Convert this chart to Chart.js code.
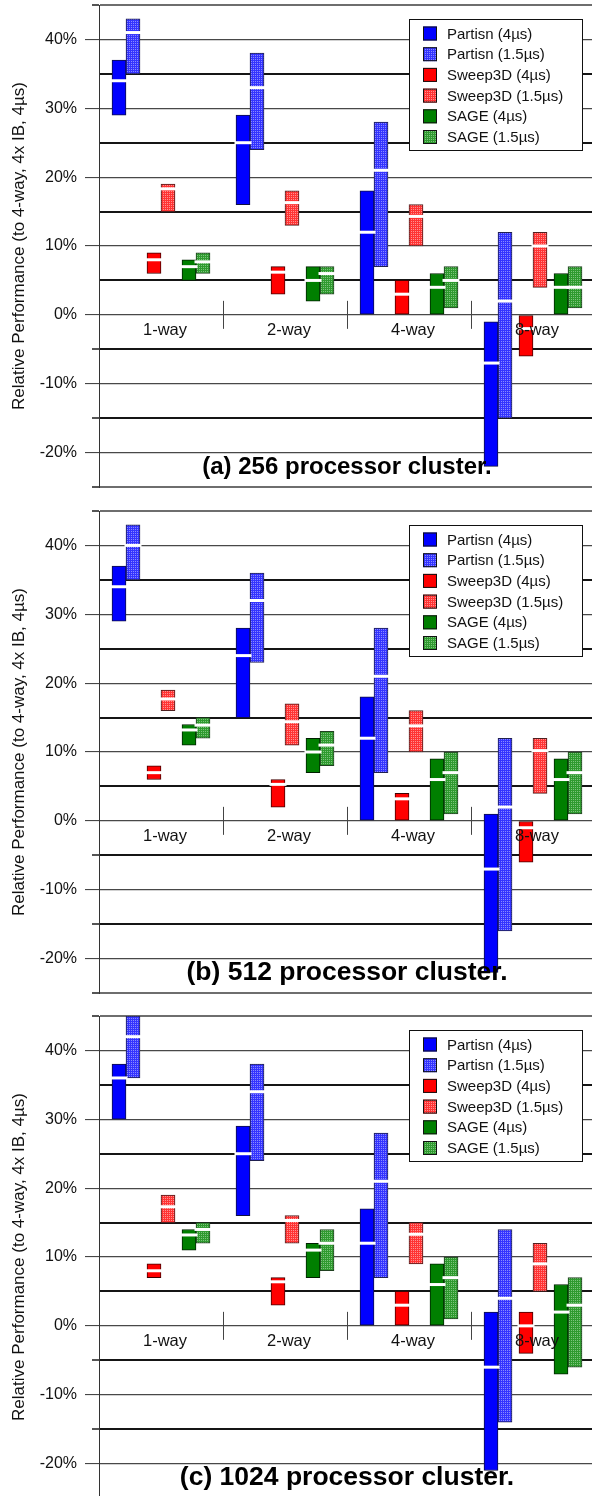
<!DOCTYPE html>
<html><head><meta charset="utf-8">
<script src="https://cdn.jsdelivr.net/npm/chart.js@4.4.0/dist/chart.umd.min.js"></script>
<style>
html,body{margin:0;padding:0;background:#fff;overflow:hidden;width:592px;height:1496px;}
#wrap{position:relative;width:592px;height:1496px;overflow:hidden;background:#fff;}
canvas{position:absolute;left:0;}
</style></head><body>
<div id="wrap">
<canvas id="ca" width="600" height="506" style="top:0px;width:600px;height:506px"></canvas>
<canvas id="cb" width="600" height="506" style="top:506px;width:600px;height:506px"></canvas>
<canvas id="cc" width="600" height="506" style="top:1011px;width:600px;height:506px"></canvas>
</div>
<script>
// ---------- data ----------
const categories = ['1-way', '2-way', '4-way', '8-way'];
const seriesNames = ['Partisn (4µs)', 'Partisn (1.5µs)', 'Sweep3D (4µs)', 'Sweep3D (1.5µs)', 'SAGE (4µs)', 'SAGE (1.5µs)'];
const yAxisTitle = 'Relative Performance (to 4-way, 4x IB, 4µs)';
const yMin = -25, yMax = 45, yStep = 5, yLabelEvery = 10;
const panelTitles = ['(a) 256 processor cluster.', '(b) 512 processor cluster.', '(c) 1024 processor cluster.'];

// panel (a) 256 processors: [low, high] ranges and mean per category
const a_partisn4 = [[29, 37], [16, 29], [0, 18], [-22, -1]];
const a_partisn4_mean = [34, 25, 12, -7];
const a_partisn15 = [[35, 43], [24, 38], [7, 28], [-15, 12]];
const a_partisn15_mean = [41, 33, 21, 2];
const a_sweep4 = [[6, 9], [3, 7], [0, 5], [-6, 0]];
const a_sweep4_mean = [8, 6.2, 3, -2];
const a_sweep15 = [[15, 19], [13, 18], [10, 16], [4, 12]];
const a_sweep15_mean = [18.3, 16.3, 14.3, 10];
const a_sage4 = [[5, 8], [2, 7], [0, 6], [0, 6]];
const a_sage4_mean = [7, 5, 4, 4];
const a_sage15 = [[6, 9], [3, 7], [1, 7], [1, 7]];
const a_sage15_mean = [7.7, 6, 5, 4];

// panel (b) 512 processors
const b_partisn4 = [[29, 37], [15, 28], [0, 18], [-22, 1]];
const b_partisn4_mean = [34, 24, 12, -7];
const b_partisn15 = [[35, 43], [23, 36], [7, 28], [-16, 12]];
const b_partisn15_mean = [40, 32, 21, 2];
const b_sweep4 = [[6, 8], [2, 6], [0, 4], [-6, 0]];
const b_sweep4_mean = [7, 5.3, 3.2, -1];
const b_sweep15 = [[16, 19], [11, 17], [10, 16], [4, 12]];
const b_sweep15_mean = [17.7, 14.4, 13.8, 10.2];
const b_sage4 = [[11, 14], [7, 12], [0, 9], [0, 9]];
const b_sage4_mean = [13.2, 10, 6, 6];
const b_sage15 = [[12, 15], [8, 13], [1, 10], [1, 10]];
const b_sage15_mean = [13.9, 11, 7, 7];

// panel (c) 1024 processors
const c_partisn4 = [[30, 38], [16, 29], [0, 17], [-21, 2]];
const c_partisn4_mean = [36, 25, 12, -6];
const c_partisn15 = [[36, 45], [24, 38], [7, 28], [-14, 14]];
const c_partisn15_mean = [42, 34, 21, 4];
const c_sweep4 = [[7, 9], [3, 7], [0, 5], [-4, 2]];
const c_sweep4_mean = [8, 6.4, 3, 0];
const c_sweep15 = [[15, 19], [12, 16], [9, 15], [5, 12]];
const c_sweep15_mean = [17.3, 15.3, 13.3, 9];
const c_sage4 = [[11, 14], [7, 12], [0, 9], [-7, 6]];
const c_sage4_mean = [13.2, 11, 6, 2];
const c_sage15 = [[12, 15], [8, 14], [1, 10], [-6, 7]];
const c_sage15_mean = [14, 12, 7, 3];

// ---------- styling ----------
Chart.defaults.font.family = "'Liberation Sans', Arial, sans-serif";
Chart.defaults.color = '#111';

function makePattern(base, dot) {
  const c = document.createElement('canvas');
  c.width = 2; c.height = 2;
  const g = c.getContext('2d');
  g.fillStyle = base; g.fillRect(0, 0, 2, 2);
  g.fillStyle = dot; g.fillRect(1, 1, 1, 1);
  return g.createPattern(c, 'repeat');
}
const fills = [
  '#0000ff', makePattern('#3434ff', '#8a8aff'),
  '#ff0000', makePattern('#ff3434', '#ff9090'),
  '#007f00', makePattern('#2f9a2f', '#7cc47c')
];
const borders = ['#101040', '#202050', '#400000', '#502020', '#002000', '#204020'];
// horizontal offset of each series inside its category (fraction of category width)
const seriesOffset = [-42, -28, -7, 7, 28, 42].map(p => p / 124);

function isMajor(v) { return v % yLabelEvery === 0; }
function isEdge(v) { return v === yMin || v === yMax; }

const panelPlugin = {
  id: 'panelDecor',
  beforeDatasetsDraw(chart) {
    const {ctx, chartArea: ca} = chart;
    const xs = chart.scales.x, ys = chart.scales.y;
    const y0 = ys.getPixelForValue(0);
    ctx.save();
    ctx.strokeStyle = '#444'; ctx.lineWidth = 1;
    // category separators on the zero line
    for (let i = 1; i < categories.length; i++) {
      const px = Math.round(xs.getPixelForValue(i)) + 0.5;
      ctx.beginPath(); ctx.moveTo(px, y0 - 14); ctx.lineTo(px, y0 + 14); ctx.stroke();
    }
    // short minor ticks
    ys.ticks.forEach(t => {
      if (!isMajor(t.value) && (t.value < 0 || t.value === yMax)) {
        const py = Math.round(ys.getPixelForValue(t.value));
        ctx.strokeStyle = '#555'; ctx.lineWidth = 2;
        ctx.beginPath(); ctx.moveTo(ca.left - 7, py); ctx.lineTo(ca.left, py); ctx.stroke();
      }
    });
    ctx.restore();
  },
  afterDraw(chart, args, opts) {
    const {ctx, chartArea: ca} = chart;
    ctx.save();
    // legend box
    const bx = ca.right - 186, by = ca.top + 14, bw = 173, bh = 131;
    ctx.fillStyle = '#fff'; ctx.fillRect(bx, by, bw, bh);
    ctx.strokeStyle = '#111'; ctx.lineWidth = 1;
    ctx.strokeRect(bx + 0.5, by + 0.5, bw, bh);
    ctx.font = "15px 'Liberation Sans', Arial, sans-serif";
    ctx.textBaseline = 'middle'; ctx.textAlign = 'left';
    const barSets = chart.data.datasets.filter(d => d.type === 'bar');
    barSets.forEach((d, i) => {
      const cy = by + 14.5 + i * 20.7;
      ctx.fillStyle = d.backgroundColor;
      ctx.fillRect(bx + 14, cy - 7, 14, 14);
      ctx.strokeStyle = '#111';
      ctx.strokeRect(bx + 14.5, cy - 6.5, 13, 13);
      ctx.fillStyle = '#111';
      ctx.fillText(d.label, bx + 38, cy + 1);
    });
    // panel caption
    ctx.font = "bold " + opts.size + "px 'Liberation Sans', Arial, sans-serif";
    ctx.textAlign = 'center'; ctx.fillStyle = '#000';
    ctx.fillText(opts.text, (ca.left + ca.right) / 2, ca.bottom - 20);
    ctx.restore();
  }
};

function zeroPad(s) { s.paddingLeft = 0; s.paddingRight = 0; s.paddingTop = 0; s.paddingBottom = 0; }

function makePanel(id, title, titleSize, ranges, means) {
  const datasets = [];
  ranges.forEach((r, s) => {
    datasets.push({
      type: 'bar', label: seriesNames[s],
      data: r.map((v, i) => ({x: i + 0.5 + seriesOffset[s], y: v})),
      backgroundColor: fills[s], borderColor: borders[s], borderWidth: 1,
      borderSkipped: false, barThickness: 14, grouped: false, order: 2,
      xAxisID: 'x', yAxisID: 'y'
    });
  });
  means.forEach((m, s) => {
    datasets.push({
      type: 'line', label: seriesNames[s] + ' mean',
      data: m.map((v, i) => ({x: i + 0.5 + seriesOffset[s], y: v})),
      showLine: false, pointStyle: 'line', pointRadius: 8.5, pointHoverRadius: 8.5,
      borderColor: '#fff', pointBorderColor: '#fff', borderWidth: 3, pointBorderWidth: 3,
      order: 1, xAxisID: 'x', yAxisID: 'y'
    });
  });
  return new Chart(document.getElementById(id), {
    type: 'bar',
    data: {labels: categories, datasets},
    options: {
      responsive: false, animation: false, events: [],
      layout: {autoPadding: false, padding: {top: 5, bottom: 19, left: 0, right: 5}},
      plugins: {legend: {display: false}, tooltip: {enabled: false},
        panelDecor: {text: title, size: titleSize}},
      scales: {
        x: {type: 'linear', min: 0, max: categories.length, display: false, offset: false, afterFit: zeroPad},
        xc: {
          type: 'category', axis: 'x', labels: categories, offset: true,
          position: {y: 0}, z: 1, afterFit: zeroPad,
          grid: {display: false, drawTicks: false}, border: {display: false},
          ticks: {font: {size: 16.5}, color: '#111', padding: 6, labelOffset: 4, z: 1}
        },
        y: {
          type: 'linear', min: yMin, max: yMax,
          ticks: {
            stepSize: yStep, font: {size: 16}, color: '#111', padding: 8,
            callback: v => (isMajor(v) ? v + '%' : '')
          },
          grid: {
            color: c => (!c.tick ? '#444' : isEdge(c.tick.value) ? '#6e6e6e' : isMajor(c.tick.value) ? '#484848' : '#151515'),
            lineWidth: c => (c.tick && !isMajor(c.tick.value) ? 2 : 1.2),
            tickLength: 14, tickWidth: 1,
            tickColor: c => (c.tick && isMajor(c.tick.value) ? '#333' : 'rgba(0,0,0,0)')
          },
          border: {display: true, color: '#333', width: 1},
          title: {display: true, text: yAxisTitle, font: {size: 17}, color: '#111', padding: {top: 9, bottom: 0}},
          afterFit: s => { s.width = 99; zeroPad(s); }
        }
      }
    },
    plugins: [panelPlugin]
  });
}

makePanel('ca', panelTitles[0], 24,
  [a_partisn4, a_partisn15, a_sweep4, a_sweep15, a_sage4, a_sage15],
  [a_partisn4_mean, a_partisn15_mean, a_sweep4_mean, a_sweep15_mean, a_sage4_mean, a_sage15_mean]);
makePanel('cb', panelTitles[1], 26.5,
  [b_partisn4, b_partisn15, b_sweep4, b_sweep15, b_sage4, b_sage15],
  [b_partisn4_mean, b_partisn15_mean, b_sweep4_mean, b_sweep15_mean, b_sage4_mean, b_sage15_mean]);
makePanel('cc', panelTitles[2], 26.5,
  [c_partisn4, c_partisn15, c_sweep4, c_sweep15, c_sage4, c_sage15],
  [c_partisn4_mean, c_partisn15_mean, c_sweep4_mean, c_sweep15_mean, c_sage4_mean, c_sage15_mean]);
</script>
</body></html>
